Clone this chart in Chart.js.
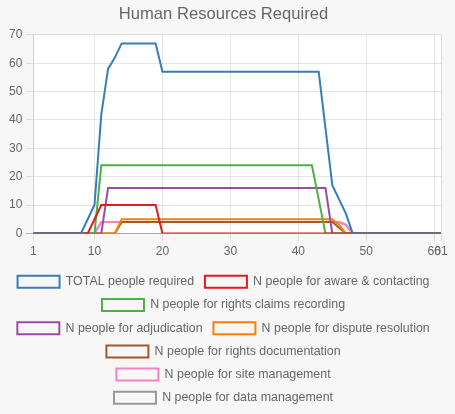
<!DOCTYPE html>
<html>
<head>
<meta charset="utf-8">
<script src="https://cdn.jsdelivr.net/npm/chart.js@4/dist/chart.umd.min.js"></script>
<style>
  html, body { margin: 0; padding: 0; background: #f7f7f7; }
  #wrap { position: relative; width: 455px; height: 414px; }
</style>
</head>
<body>
<div id="wrap"><canvas id="chart"></canvas></div>
<script>
// week numbers (x values)
const weeks = [
  1, 2, 3, 4, 5, 6, 7, 8, 9, 10,
  11, 12, 13, 14, 15, 16, 17, 18, 19, 20,
  21, 22, 23, 24, 25, 26, 27, 28, 29, 30,
  31, 32, 33, 34, 35, 36, 37, 38, 39, 40,
  41, 42, 43, 44, 45, 46, 47, 48, 49, 50,
  51, 52, 53, 54, 55, 56, 57, 58, 59, 60,
  61
];
const xTickValues = [1, 10, 20, 30, 40, 50, 60, 61];

const totalPeople = [
  0, 0, 0, 0, 0, 0, 0, 0, 5, 10,
  42, 58, 62, 67, 67, 67, 67, 67, 67, 57,
  57, 57, 57, 57, 57, 57, 57, 57, 57, 57,
  57, 57, 57, 57, 57, 57, 57, 57, 57, 57,
  57, 57, 57, 37, 17, 12, 7, 0, 0, 0,
  0, 0, 0, 0, 0, 0, 0, 0, 0, 0,
  0
];
const awareContacting = [
  0, 0, 0, 0, 0, 0, 0, 0, 0, 5,
  10, 10, 10, 10, 10, 10, 10, 10, 10, 0,
  0, 0, 0, 0, 0, 0, 0, 0, 0, 0,
  0, 0, 0, 0, 0, 0, 0, 0, 0, 0,
  0, 0, 0, 0, 0, 0, 0, 0, 0, 0,
  0, 0, 0, 0, 0, 0, 0, 0, 0, 0,
  0
];
const claimsRecording = [
  0, 0, 0, 0, 0, 0, 0, 0, 0, 0,
  24, 24, 24, 24, 24, 24, 24, 24, 24, 24,
  24, 24, 24, 24, 24, 24, 24, 24, 24, 24,
  24, 24, 24, 24, 24, 24, 24, 24, 24, 24,
  24, 24, 12, 0, 0, 0, 0, 0, 0, 0,
  0, 0, 0, 0, 0, 0, 0, 0, 0, 0,
  0
];
const adjudication = [
  0, 0, 0, 0, 0, 0, 0, 0, 0, 0,
  0, 16, 16, 16, 16, 16, 16, 16, 16, 16,
  16, 16, 16, 16, 16, 16, 16, 16, 16, 16,
  16, 16, 16, 16, 16, 16, 16, 16, 16, 16,
  16, 16, 16, 16, 0, 0, 0, 0, 0, 0,
  0, 0, 0, 0, 0, 0, 0, 0, 0, 0,
  0
];
const disputeResolution = [
  0, 0, 0, 0, 0, 0, 0, 0, 0, 0,
  0, 0, 0, 5, 5, 5, 5, 5, 5, 5,
  5, 5, 5, 5, 5, 5, 5, 5, 5, 5,
  5, 5, 5, 5, 5, 5, 5, 5, 5, 5,
  5, 5, 5, 5, 5, 3, 0, 0, 0, 0,
  0, 0, 0, 0, 0, 0, 0, 0, 0, 0,
  0
];
const documentation = [
  0, 0, 0, 0, 0, 0, 0, 0, 0, 0,
  0, 0, 0, 4, 4, 4, 4, 4, 4, 4,
  4, 4, 4, 4, 4, 4, 4, 4, 4, 4,
  4, 4, 4, 4, 4, 4, 4, 4, 4, 4,
  4, 4, 4, 4, 4, 2, 0, 0, 0, 0,
  0, 0, 0, 0, 0, 0, 0, 0, 0, 0,
  0
];
const siteManagement = [
  0, 0, 0, 0, 0, 0, 0, 0, 0, 0,
  4, 4, 4, 4, 4, 4, 4, 4, 4, 4,
  4, 4, 4, 4, 4, 4, 4, 4, 4, 4,
  4, 4, 4, 4, 4, 4, 4, 4, 4, 4,
  4, 4, 4, 4, 4, 4, 3, 0, 0, 0,
  0, 0, 0, 0, 0, 0, 0, 0, 0, 0,
  0
];
const dataManagement = [
  0, 0, 0, 0, 0, 0, 0, 0, 0, 0,
  4, 4, 4, 4, 4, 4, 4, 4, 4, 4,
  4, 4, 4, 4, 4, 4, 4, 4, 4, 4,
  4, 4, 4, 4, 4, 4, 4, 4, 4, 4,
  4, 4, 4, 4, 4, 4, 3, 0, 0, 0,
  0, 0, 0, 0, 0, 0, 0, 0, 0, 0,
  0
];

Chart.defaults.font.family = "'Liberation Sans', Arial, sans-serif";
Chart.defaults.font.size = 12;
Chart.defaults.color = "#666";

function line(label, color, data) {
  return {
    label: label,
    data: data,
    borderColor: color,
    backgroundColor: "rgba(0,0,0,0)",
    borderWidth: 2,
    pointRadius: 0,
    tension: 0,
    fill: false,
  };
}

// grey page, white plot area
const bgPlugin = {
  id: "bg",
  beforeDraw(chart) {
    const { ctx, chartArea } = chart;
    ctx.save();
    ctx.fillStyle = "#f7f7f7";
    ctx.fillRect(0, 0, chart.width, chart.height);
    ctx.fillStyle = "#fff";
    ctx.fillRect(chartArea.left, chartArea.top, chartArea.right - chartArea.left, chartArea.bottom - chartArea.top);
    ctx.restore();
  },
};

new Chart(document.getElementById("chart"), {
  type: "line",
  data: {
    labels: weeks,
    datasets: [
      line("TOTAL people required", "#377eb8", totalPeople),
      line("N people for aware & contacting", "#e41a1c", awareContacting),
      line("N people for rights claims recording", "#4daf4a", claimsRecording),
      line("N people for adjudication", "#984ea3", adjudication),
      line("N people for dispute resolution", "#ff7f00", disputeResolution),
      line("N people for rights documentation", "#a65628", documentation),
      line("N people for site management", "#f781bf", siteManagement),
      line("N people for data management", "#999999", dataManagement),
    ],
  },
  options: {
    responsive: true,
    maintainAspectRatio: false,
    animation: false,
    layout: { padding: { left: 6, right: 14 } },
    plugins: {
      title: {
        display: true,
        text: "Human Resources Required",
        font: { size: 16.6, weight: "normal" },
        color: "#666",
        padding: { top: 4, bottom: 11 },
      },
      legend: {
        position: "bottom",
        labels: {
          boxWidth: 42,
          boxHeight: 12,
          padding: 10.8,
          color: "#666",
          font: { size: 12.4 },
        },
      },
      tooltip: { enabled: false },
    },
    scales: {
      x: {
        type: "linear",
        min: 1,
        max: 61,
        afterBuildTicks(scale) {
          scale.ticks = xTickValues.map((v) => ({ value: v }));
        },
        afterFit(scale) {
          scale.height += 3;
        },
        ticks: { autoSkip: false, maxRotation: 0, color: "#666" },
        grid: { color: "rgba(0,0,0,0.1)" },
      },
      y: {
        min: 0,
        max: 70,
        ticks: { stepSize: 10, color: "#666" },
        grid: {
          color: (c) => (c.tick && c.tick.value === 0 ? "rgba(0,0,0,0.25)" : "rgba(0,0,0,0.1)"),
        },
      },
    },
  },
  plugins: [bgPlugin],
});
</script>
</body>
</html>
